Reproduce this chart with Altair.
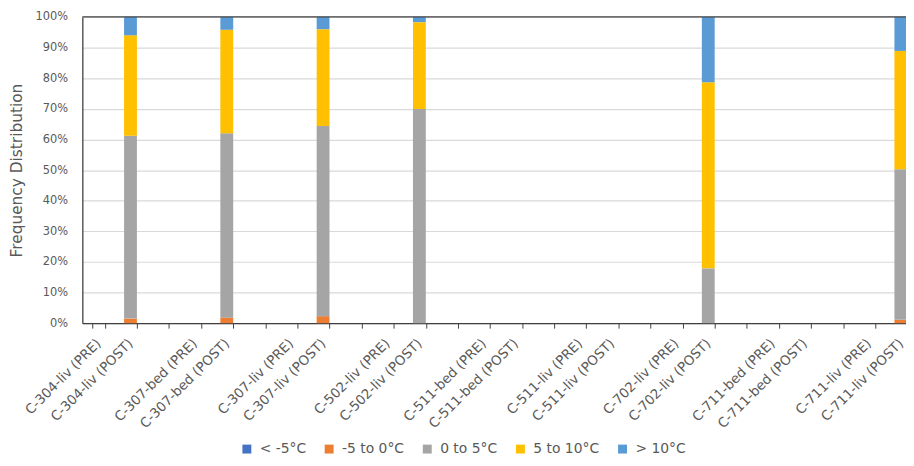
import altair as alt
import pandas as pd

categories = [
    "C-304-liv (PRE)", "C-304-liv (POST)", " ",
    "C-307-bed (PRE)", "C-307-bed (POST)", "  ",
    "C-307-liv (PRE)", "C-307-liv (POST)", "   ",
    "C-502-liv (PRE)", "C-502-liv (POST)", "    ",
    "C-511-bed (PRE)", "C-511-bed (POST)", "     ",
    "C-511-liv (PRE)", "C-511-liv (POST)", "      ",
    "C-702-liv (PRE)", "C-702-liv (POST)", "       ",
    "C-711-bed (PRE)", "C-711-bed (POST)", "        ",
    "C-711-liv (PRE)", "C-711-liv (POST)",
]
series = ["< -5°C", "-5 to 0°C", "0 to 5°C", "5 to 10°C", "> 10°C"]
colors = ["#4472C4", "#ED7D31", "#A5A5A5", "#FFC000", "#5B9BD5"]

below_m5 = [0, 0, 0, 0, 0, 0, 0, 0, 0, 0, 0, 0, 0, 0, 0, 0, 0, 0, 0, 0, 0, 0, 0, 0, 0, 0]
m5_to_0 = [0, 1.5, 0, 0, 1.8, 0, 0, 2.3, 0, 0, 0, 0, 0, 0, 0, 0, 0, 0, 0, 0, 0, 0, 0, 0, 0, 1.1]
z_to_5 = [0, 59.7, 0, 0, 60.2, 0, 0, 62.1, 0, 0, 69.9, 0, 0, 0, 0, 0, 0, 0, 0, 17.9, 0, 0, 0, 0, 0, 49.2]
f5_to_10 = [0, 32.8, 0, 0, 33.8, 0, 0, 31.6, 0, 0, 28.4, 0, 0, 0, 0, 0, 0, 0, 0, 60.8, 0, 0, 0, 0, 0, 38.6]
above_10 = [0, 6.0, 0, 0, 4.2, 0, 0, 4.0, 0, 0, 1.7, 0, 0, 0, 0, 0, 0, 0, 0, 21.3, 0, 0, 0, 0, 0, 11.1]

all_series = [below_m5, m5_to_0, z_to_5, f5_to_10, above_10]

rows = []
for si, (name, vals) in enumerate(zip(series, all_series)):
    for cat, v in zip(categories, vals):
        if v > 0:
            rows.append({"cat": cat, "series": name, "value": v / 100.0, "order": si})
df = pd.DataFrame(rows)

FONT = "DejaVu Sans"
TXT = "#595959"

bars = alt.Chart(df).mark_bar().encode(
    x=alt.X(
        "cat:N",
        sort=categories,
        scale=alt.Scale(domain=categories, paddingInner=0.6, paddingOuter=0.3),
        axis=alt.Axis(
            title=None,
            labelAngle=-45,
            labelAlign="right",
            labelBaseline="middle",
            labelFontSize=13.5,
            labelFont=FONT,
            labelColor=TXT,
            labelPadding=13,
            tickBand="extent",
            tickSize=5,
            tickColor="#404040",
            domainColor="#404040",
            domainWidth=1.3,
            grid=False,
            labelOverlap=False,
        ),
    ),
    y=alt.Y(
        "value:Q",
        stack="zero",
        scale=alt.Scale(domain=[0, 1], nice=False),
        axis=alt.Axis(
            title="Frequency Distribution",
            format=".0%",
            values=[i / 10 for i in range(11)],
            ticks=False,
            tickSize=0,
            labelPadding=15,
            labelFontSize=11.5,
            labelFont=FONT,
            labelColor=TXT,
            labelOverlap=False,
            titleFont=FONT,
            titleFontSize=15.5,
            titleFontWeight="normal",
            titleColor=TXT,
            titlePadding=10,
            gridColor="#D9D9D9",
            gridWidth=1.2,
            domainColor="#404040",
            domainWidth=1.3,
        ),
    ),
    color=alt.Color(
        "series:N",
        scale=alt.Scale(domain=series, range=colors),
        legend=alt.Legend(
            title=None,
            orient="none",
            legendX=159,
            legendY=429,
            direction="horizontal",
            symbolType="square",
            symbolSize=81,
            symbolStrokeWidth=0,
            labelFont=FONT,
            labelFontSize=14,
            labelColor=TXT,
            labelOffset=6,
            columnPadding=16,
            padding=0,
        ),
    ),
    order=alt.Order("order:Q"),
)

# frame line along the top of the plot area
top = alt.Chart(pd.DataFrame({"y": [1.0]})).mark_rule(color="#404040", strokeWidth=1.3).encode(
    y=alt.value(0)
)

chart = alt.layer(bars, top).properties(
    width=842,
    height=309,
    autosize=alt.AutoSizeParams(type="none"),
    padding={"left": 75, "top": 7, "right": -11, "bottom": 134},
).configure_view(stroke=None)

chart.save("out.html", embed_options={"renderer": "svg", "actions": False})
